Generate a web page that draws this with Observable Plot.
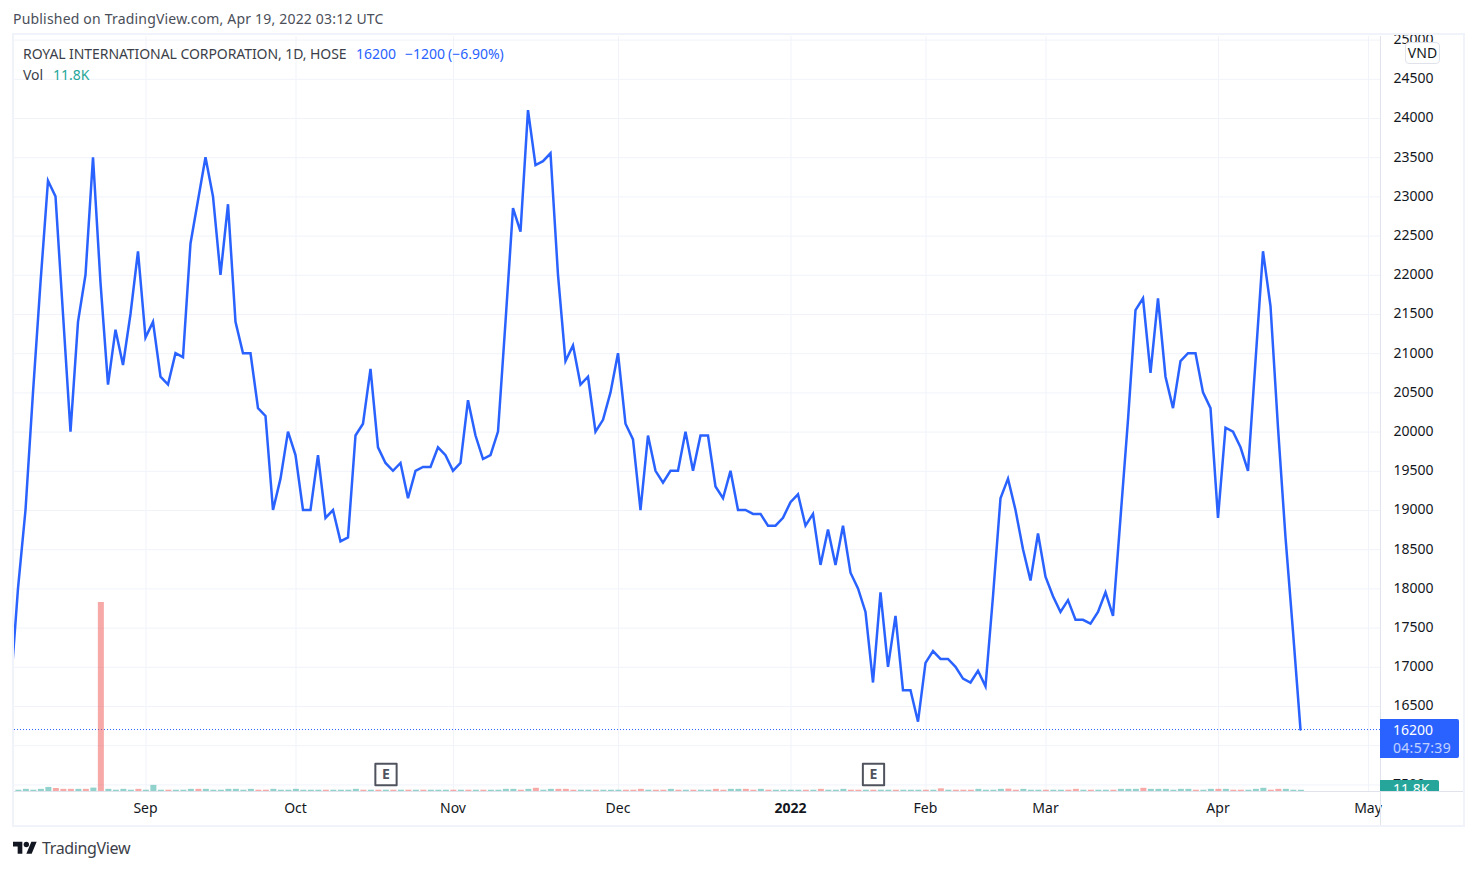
<!DOCTYPE html>
<html>
<head>
<meta charset="utf-8">
<script src="https://cdn.jsdelivr.net/npm/d3@7"></script>
<script src="https://cdn.jsdelivr.net/npm/@observablehq/plot@0.6"></script>
<style>
html,body{margin:0;padding:0;background:#fff;width:1478px;height:870px;overflow:hidden;font-family:"Noto Sans",sans-serif;color:#131722}
#stage{position:relative;width:1478px;height:870px;overflow:hidden}
#stage svg.plot{position:absolute;left:0;top:0}
.abs{position:absolute;white-space:nowrap}
.t{font-size:14px;line-height:20px}
</style>
</head>
<body>
<div id="stage"></div>
<script>
// Trading-day closes, starting five sessions before the first index (index 0 = first peak)
const closes = [
 16700,18000,19000,20500,21900,
 23200,23000,21500,20000,21400,22000,23500,21900,20600,21300,
 20850,21500,22300,21200,21400,20700,20600,21000,20950,22400,
 22950,23500,23000,22000,22900,21400,21000,21000,20300,20200,
 19000,19400,20000,19700,19000,19000,19700,18900,19000,18600,
 18650,19950,20100,20800,19800,19600,19500,19600,19150,19500,
 19550,19550,19800,19700,19500,19600,20400,19950,19650,19700,
 20000,21400,22850,22550,24100,23400,23450,23550,22000,20900,
 21100,20600,20700,20000,20150,20500,21000,20100,19900,19000,
 19950,19500,19350,19500,19500,20000,19500,19950,19950,19300,
 19150,19500,19000,19000,18950,18950,18800,18800,18900,19100,
 19200,18800,18950,18300,18750,18300,18800,18200,18000,17700,
 16800,17950,17000,17650,16700,16700,16300,17050,17200,17100,
 17100,17000,16850,16800,16950,16750,17900,19150,19400,19000,
 18500,18100,18700,18150,17900,17700,17850,17600,17600,17550,
 17700,17950,17650,18900,20150,21550,21700,20750,21700,20700,
 20300,20900,21000,21000,20500,20300,18900,20050,20000,19800,
 19500,20900,22300,21600,20050,18650,17450,16200
];
// Volume in thousands
const volumes = [
 12,12,20,12,20,
 38,28,20,20,20,20,32,1770,20,12,
 20,12,20,12,57,12,12,12,12,20,
 20,20,12,12,20,20,12,20,12,12,
 20,12,12,20,12,12,12,12,12,12,
 12,20,12,12,12,12,12,12,12,12,
 12,12,12,12,12,12,12,12,12,12,
 12,20,20,12,20,30,12,20,20,20,
 12,12,12,12,12,12,12,12,12,20,
 12,12,12,20,12,12,12,12,12,20,
 12,20,20,20,12,20,12,12,12,12,
 12,12,12,20,12,12,20,12,12,12,
 12,12,12,12,12,12,12,12,12,25,
 12,12,12,12,20,12,12,20,22,12,
 20,12,12,12,12,12,12,20,12,12,
 12,12,12,20,20,20,30,20,20,20,
 12,20,20,12,12,20,20,20,12,12,
 12,20,30,12,20,20,12,11.8
];
// 1 = up session, 0 = down session
const volumeUp = [
 1,1,1,1,1,
 1,0,0,0,1,0,1,0,1,1,
 1,1,0,1,1,1,0,1,1,1,
 0,1,1,1,1,1,1,1,0,0,
 1,1,1,1,1,1,1,0,1,1,
 1,1,0,1,0,1,0,1,0,1,
 0,1,1,1,0,1,0,1,0,1,
 1,1,1,0,1,0,1,1,0,0,
 0,1,1,0,1,1,1,0,0,0,
 1,0,0,1,0,1,0,1,1,0,
 0,1,1,0,0,1,0,1,1,1,
 1,0,1,0,1,1,1,0,0,1,
 0,1,1,0,1,1,1,0,1,0,
 1,0,0,0,1,1,1,1,0,0,
 1,1,1,0,1,1,0,0,1,0,
 1,1,0,1,1,1,0,1,1,1,
 1,1,1,0,1,1,0,1,0,0,
 1,1,1,0,0,1,1,1
];
const firstIndex = -5;
const monthLabels = ["Sep","Oct","Nov","Dec","2022","Feb","Mar","Apr","May"];
const monthIndex  = [13,33,54,76,99,117,133,156,176];
const earningsIndex = [45,110];
const lastPrice = 16200;
const priceLabels = d3.range(16500,25001,500);
const priceGrid = d3.range(15500,25001,500);

const sessions = closes.map((c,k)=>({i:k+firstIndex,c,v:volumes[k],up:volumeUp[k]}));
const months = monthLabels.map((label,k)=>({label,i:monthIndex[k]}));

const W=1478,H=870;
const frame={width:W,height:H,marginLeft:14,marginRight:98,marginTop:36,marginBottom:79};
const xDomain=[-4.533,177.6];
const FONT='"Noto Sans",sans-serif';

const pricePlot=Plot.plot({
  ...frame,
  style:{background:"transparent",fontFamily:FONT},
  x:{domain:xDomain,axis:null},
  y:{domain:[15416,25046],axis:null},
  marks:[
    Plot.gridY(priceGrid,{stroke:"#f0f3fa",strokeOpacity:1,strokeWidth:1}),
    Plot.gridX(monthIndex,{stroke:"#f0f3fa",strokeOpacity:1,strokeWidth:1}),
    Plot.ruleY([lastPrice],{dy:-0.5,stroke:"#2962ff",strokeWidth:1,strokeDasharray:"1 2"}),
    Plot.line(sessions,{x:"i",y:"c",dx:-0.5,dy:-0.5,stroke:"#2962ff",strokeWidth:2.5,strokeLinejoin:"miter",strokeMiterlimit:4,clip:true,curve:"linear"}),
    Plot.axisY(priceLabels,{anchor:"right",tickSize:0,tickPadding:13,dy:-0.5,tickFormat:d=>String(d),label:null,fontSize:14,fill:"#131722"}),
    Plot.text(months.filter(d=>d.label!=="2022"),{x:"i",text:"label",frameAnchor:"bottom",lineAnchor:"middle",dy:17,dx:-0.5,fontSize:14,fill:"#131722"}),
    Plot.text(months.filter(d=>d.label==="2022"),{x:"i",text:"label",frameAnchor:"bottom",lineAnchor:"middle",dy:17,dx:-0.5,fontSize:14,fontWeight:"bold",fill:"#131722"}),
    Plot.dot(earningsIndex,{x:d=>d,frameAnchor:"bottom",dy:-17,symbol:"square",r:12,fill:"#fff",stroke:"#50535e",strokeWidth:2,strokeLinejoin:"round"}),
    Plot.text(earningsIndex,{x:d=>d,text:()=>"E",frameAnchor:"bottom",lineAnchor:"middle",dy:-17,fontSize:14,fontWeight:"bold",fill:"#50535e"})
  ]
});
pricePlot.classList.add("plot");

const volumePlot=Plot.plot({
  ...frame,
  style:{background:"transparent",fontFamily:FONT},
  x:{domain:xDomain,axis:null},
  y:{domain:[0,1770],range:[791,602],axis:null},
  marks:[
    Plot.rectY(sessions,{x1:d=>d.i-0.35,x2:d=>d.i+0.45,y:"v",fill:d=>d.up?"#26a69a":"#ef5350",fillOpacity:0.5,clip:true})
  ]
});
volumePlot.classList.add("plot");

const stage=document.getElementById("stage");
stage.appendChild(pricePlot);
stage.appendChild(volumePlot);

const overlay=`
<div class="abs" style="left:1380px;top:36px;width:1px;height:789px;background:#e0e3eb"></div>
<div class="abs" style="left:14px;top:791px;width:1450px;height:1px;background:#e0e3eb"></div>
<div class="abs" style="left:12px;top:33px;width:1449px;height:790px;border:2px solid #f0f3fa;pointer-events:none"></div>

<div class="abs t" style="left:13px;top:9px;color:#4a4e59;letter-spacing:.19px">Published on TradingView.com, Apr 19, 2022 03:12 UTC</div>
<div class="abs t" style="left:23px;top:44px;color:#3c3f49;letter-spacing:-.07px">ROYAL INTERNATIONAL CORPORATION, 1D, HOSE</div>
<div class="abs t" style="left:356px;top:44px;color:#2962ff">16200</div>
<div class="abs t" style="left:405px;top:44px;color:#2962ff">−1200</div>
<div class="abs t" style="left:448px;top:44px;color:#2962ff">(−6.90%)</div>
<div class="abs t" style="left:23px;top:65px;color:#3c3f49">Vol</div>
<div class="abs t" style="left:53px;top:65px;color:#26a69a">11.8K</div>

<div class="abs t" style="left:1405px;top:42px;width:33px;height:20px;border:1px solid #e0e3eb;border-radius:4px;background:#fff;text-align:center;color:#131722">VND</div>

<div class="abs" style="left:1380px;top:719px;width:79px;height:39px;background:#2962ff;border-radius:0 2px 2px 0"></div>
<div class="abs t" style="left:1393px;top:720px;color:#fff">16200</div>
<div class="abs t" style="left:1393px;top:738px;color:#fff;opacity:.7;letter-spacing:.3px">04:57:39</div>

<div class="abs" style="left:1381px;top:776px;width:58px;height:4px;overflow:hidden"><div class="t" style="padding-left:12px;margin-top:-2px;color:#131722">7500</div></div>
<div class="abs" style="left:1380px;top:780px;width:59px;height:11px;overflow:hidden;background:#26a69a;border-radius:0 2px 0 0"><div class="t" style="padding-left:13px;margin-top:-1px;color:#fff">11.8K</div></div>

<svg class="abs" style="left:13px;top:839px" width="24" height="19" viewBox="0 0 36 28"><path fill="#131722" d="M14 22H7V11H0V4h14v18zM28 22h-8l7.5-18h8L28 22z"/><circle fill="#131722" cx="20" cy="8" r="4"/></svg>
<div class="abs" style="left:42px;top:837px;font-size:16px;line-height:22px;letter-spacing:-.36px;color:#3c3f49">TradingView</div>
`;
stage.insertAdjacentHTML("beforeend",overlay);
</script>
</body>
</html>
